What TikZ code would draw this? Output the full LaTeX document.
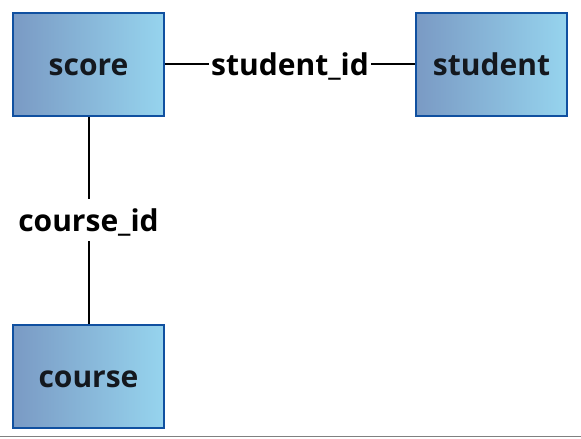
\documentclass[tikz,border=0pt]{standalone}
\usepackage{fontspec}
\setmainfont{Open Sans}
\usetikzlibrary{calc}
\begin{document}
\begin{tikzpicture}[x=1pt, y=1pt]
            \tikzstyle{table} = [draw={rgb,255:red,16;green,80;blue,160}, line width=2pt, left color={rgb,255:red,122;green,154;blue,196}, right color={rgb,255:red,150;green,212;blue,238}, minimum width=151pt, minimum height=103pt, inner sep=0pt, font=\bfseries\fontsize{30}{36}\selectfont, text height=22pt, text depth=0pt, text={rgb,255:red,20;green,24;blue,30}]
            \tikzstyle{link} = [line width=2pt]
            \tikzstyle{key} = [fill=white, inner xsep=2pt, inner ysep=10pt, text height=22pt, text depth=0pt, font=\bfseries\fontsize{30}{36}\selectfont]
            \useasboundingbox (0, 0) rectangle (581, 439);
            \node[table] (score) at (88.5, 374.5) {score};
            \node[table] (student) at (491.5, 374.5) {student};
            \node[table] (course) at (88.5, 62.5) {course};
            \draw[link] (score) -- node[key] {student\_id} (student);
            \draw[link] (score) -- node[key] {course\_id} (course);
            \draw[gray, line width=1.5pt] (0, 2.5) -- (581, 2.5);
        \end{tikzpicture}
\end{document}
